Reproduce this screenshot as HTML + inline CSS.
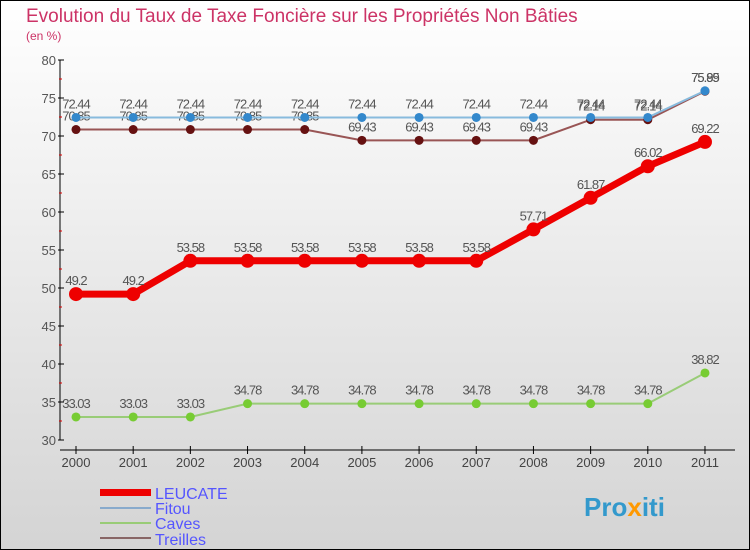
<!DOCTYPE html>
<html><head><meta charset="utf-8"><style>
body{margin:0}
#c{width:750px;height:550px;position:relative;overflow:hidden}
</style></head><body>
<div id="c">
<svg id="s" width="750" height="550" xmlns="http://www.w3.org/2000/svg" font-family="Liberation Sans, sans-serif">
<defs><linearGradient id="bg" x1="0" y1="0" x2="0" y2="1"><stop offset="0" stop-color="#ffffff"/><stop offset="1" stop-color="#d4d4d4"/></linearGradient></defs>
<rect x="0.5" y="0.5" width="749" height="549" fill="url(#bg)" stroke="#000"/>
<text x="26" y="22" font-size="19" fill="#cc3366">Evolution du Taux de Taxe Foncière sur les Propriétés Non Bâties</text>
<text x="26" y="40" font-size="12" fill="#cc3366">(en %)</text>
<g id="axes"></g><g id="series"></g>
<g>
<rect x="100" y="489" width="51" height="7" fill="#ee0000"/><text x="155" y="499" font-size="16" fill="#5555ff">LEUCATE</text>
<rect x="100" y="507" width="51" height="2" fill="#88aacc"/><text x="155" y="514" font-size="16" fill="#5555ff">Fitou</text>
<rect x="100" y="522" width="51" height="2" fill="#99cc77"/><text x="155" y="529" font-size="16" fill="#5555ff">Caves</text>
<rect x="100" y="537" width="51" height="2" fill="#886666"/><text x="155" y="545" font-size="16" fill="#5555ff">Treilles</text>
</g>
<text x="584" y="516" font-size="26" font-weight="bold" fill="#3399cc">Pro<tspan fill="#ff9900">x</tspan>iti</text>
</svg>
</div>
<script>
const years=[2000,2001,2002,2003,2004,2005,2006,2007,2008,2009,2010,2011];
const leucate=[49.2,49.2,53.58,53.58,53.58,53.58,53.58,53.58,57.71,61.87,66.02,69.22];
const fitou=[72.44,72.44,72.44,72.44,72.44,72.44,72.44,72.44,72.44,72.44,72.44,75.95];
const caves=[33.03,33.03,33.03,34.78,34.78,34.78,34.78,34.78,34.78,34.78,34.78,38.82];
const treilles=[70.85,70.85,70.85,70.85,70.85,69.43,69.43,69.43,69.43,72.14,72.14,75.89];
const yTicks=[30,35,40,45,50,55,60,65,70,75,80];
const NS='http://www.w3.org/2000/svg';
const X=i=>76+i*57.18, Y=v=>440-(v-30)*7.6;
function mk(t,a,p){const e=document.createElementNS(NS,t);for(const k in a)e.setAttribute(k,a[k]);p.appendChild(e);return e;}
const ax=document.getElementById('axes'),sg=document.getElementById('series');
mk('line',{x1:60,y1:60,x2:60,y2:440,stroke:'#000'},ax);
mk('line',{x1:60,y1:450,x2:735,y2:450,stroke:'#000'},ax);
yTicks.forEach(v=>{
 const l=mk('line',{x1:58,y1:Y(v),x2:64,y2:Y(v),stroke:'#000'},ax);
 
 
 const t=mk('text',{x:56,y:Y(v)+5,'font-size':13,'text-anchor':'end',fill:'#555'},ax);t.textContent=v;
 
 
 if(v<80)mk('line',{x1:59,y1:Y(v+2.5),x2:62,y2:Y(v+2.5),stroke:'#d00'},ax);
});
years.forEach((y,i)=>{
 mk('line',{x1:X(i),y1:446,x2:X(i),y2:454,stroke:'#000'},ax);
 const t=mk('text',{x:X(i),y:467,'font-size':13,'text-anchor':'middle',fill:'#444'},ax);t.textContent=y;
 
 
});
function series(name,vals,col,dot,w,r){
 const g=mk('g',{},sg);
 
 
 mk('polyline',{points:vals.map((v,i)=>X(i)+','+Y(v)).join(' '),fill:'none',stroke:col,'stroke-width':w},g);
 vals.forEach((v,i)=>{
  const c=mk('circle',{cx:X(i),cy:Y(v),r:r,fill:dot},g);
  
  
  const t=mk('text',{x:X(i),y:Y(v)-9,'font-size':13,'text-anchor':'middle',fill:'#555','letter-spacing':'-1'},g);
  t.textContent=String(v);
 });
}
series('caves',caves,'#99cc77','#77cc33',2,4.5);
series('treilles',treilles,'#995555','#661111',2,4.5);
series('fitou',fitou,'#88bbdd','#3388cc',2,4.5);
series('leucate',leucate,'#ee0000','#ee0000',7,7);
</script>
</body></html>
